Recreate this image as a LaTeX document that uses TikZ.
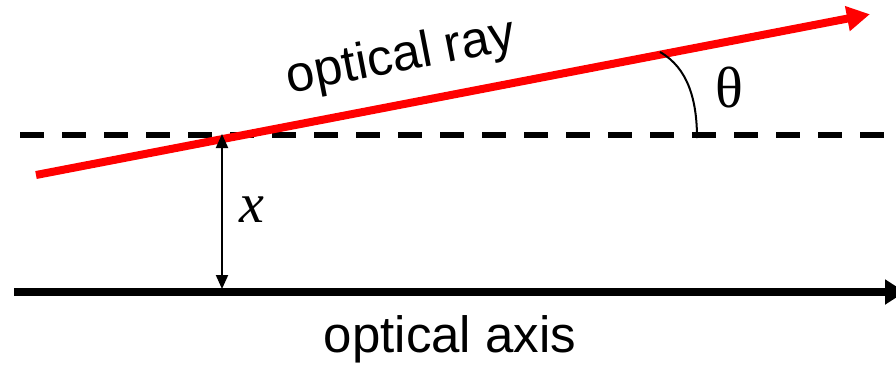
\documentclass[tikz,border=0pt]{standalone}
\usepackage{fontspec}
\setmainfont{Liberation Sans}
\newfontfamily\symfont{Liberation Serif}
\usepackage{xcolor}
\usetikzlibrary{arrows.meta, positioning, calc}
\definecolor{rayred}{HTML}{FF0000}

\tikzset{
  raystyle/.style={rayred, line width=4pt, -{Triangle[length=11.5pt, width=12pt]}},
  axisstyle/.style={black, line width=4pt, -{Triangle[length=10pt, width=12pt]}},
  refline/.style={black, line width=2.6pt, dash pattern=on 11.8pt off 9.2pt},
  heightarrow/.style={black, line width=1pt, {Triangle[length=7pt, width=6pt]}-{Triangle[length=7pt, width=6pt]}},
  labeltext/.style={font=\fontsize{25.5}{30}\selectfont, inner sep=0pt}
}

\begin{document}
\begin{tikzpicture}[x=0.5pt, y=-0.5pt]
\useasboundingbox (0,0) rectangle (896,365);
% reference line and axis
\coordinate (refA) at (20,135);
\coordinate (refB) at (896,135);
\draw[refline] (refA) -- (refB);
\coordinate (axisA) at (14,292);
\coordinate (axisB) at (905,292);
\draw[axisstyle] (axisA) -- (axisB);
% ray
\coordinate (rayA) at (36,175);
\coordinate (rayB) at (866,15);
\draw[raystyle, shorten >=-2pt] (rayA) -- (rayB);
% height x
\coordinate (hTop) at (222,134);
\coordinate (hBot) at (222,289);
\draw[heightarrow] (hBot) -- (hTop);
\node[font=\symfont\itshape\fontsize{28}{32}\selectfont, inner sep=0pt] (xlab) at (252,210) {x};
% angle theta
\coordinate (angA) at (660,52);
\coordinate (angB) at (697,138);
\draw[line width=1pt] (angA) .. controls (688,68) and (697,100) .. (angB);
\node[font=\symfont\fontsize{29}{32}\selectfont, inner sep=0pt] (thlab) at (729,88) {θ};
% labels
\node[labeltext, rotate=11] (raylab) at (401,58) {optical ray};
\node[labeltext, anchor=base] (axislab) at (450,352) {optical axis};
\end{tikzpicture}
\end{document}
